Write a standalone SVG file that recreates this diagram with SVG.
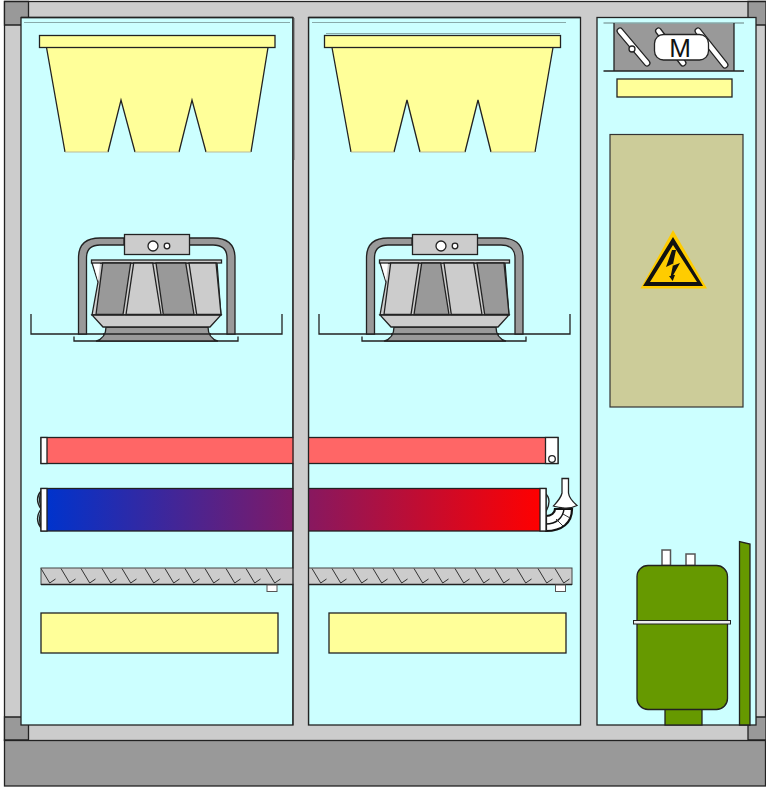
<svg xmlns="http://www.w3.org/2000/svg" width="766" height="787" viewBox="0 0 766 787">
<style>
.k{stroke:#222;stroke-width:1.3}
.l{fill:#ccc}.d{fill:#999}.p{fill:#cff}.y{fill:#ff9}.w{fill:#fff}.g{fill:#690}.b{fill:#cc9}
.t{fill:none;stroke:#333;stroke-width:1}
.s{fill:none;stroke:#222;stroke-width:1.300}
</style>
<defs>
<linearGradient id="coilGrad" x1="47" x2="540" y1="0" y2="0" gradientUnits="userSpaceOnUse">
<stop offset="0" stop-color="#03c"/><stop offset="1" stop-color="#f00"/>
</linearGradient>
<path id="tick" class="t" d="M0 0.500L8.700 15L14.500 11"/>
<g id="fanBase">
<path class="s" d="M31 314V334H282V314M74 336.500V341H238V336.500"/>
<path class="d k" d="M86.500 334V258Q86.500 245 100 245H124V238H100Q78.500 238 78.500 258V334ZM227 334V258Q227 245 213 245H189V238H213Q235 238 235 258V334Z"/>
<rect class="l k" x="124.500" y="234.500" width="65" height="20"/>
<circle class="w k" cx="153" cy="246" r="5"/><circle class="w k" cx="167" cy="246" r="2.800"/>
<path class="l k" d="M92 263H217L221 315H92L98 282Z"/>
<path class="w" d="M93 263H100L98 281Z"/>
<path class="d k" d="M106 327H208C208 334 211 339 218 341H96C103 339 106 334 106 327Z"/>
<path class="s" d="M103 334H211"/>
<path class="l k" d="M92 315H221L210 327H103Z"/>
<rect class="l k" x="91.500" y="260" width="130" height="3"/>
</g>
</defs>
<g id="cabinet">
<rect class="d k" x="4.500" y="740" width="761" height="46"/>
<rect class="l k" x="4.500" y="1.500" width="761" height="739"/>
<path class="d k" d="M4.500 1.500H28.500V25H4.500ZM748 1.500H766V25H748ZM4.500 717H28.500V740H4.500ZM748 717H766V740H748Z"/>
</g>
<g id="panel-left"><rect class="p k" x="21" y="17.500" width="272" height="707.500"/><path d="M24 22.500H290" stroke="#8aa" fill="none"/></g>
<g id="panel-middle"><rect class="p k" x="308.500" y="17.500" width="272" height="707.500"/><path d="M312 22.500H566" stroke="#8aa" fill="none"/></g>
<g id="panel-right"><rect class="p k" x="597" y="17.500" width="159" height="707.500"/></g>
<g id="filter-left">
<path class="y" d="M46.500 47.500L65 152H108L121 100L135 152H179L192 100L206 152H251L268 47.500Z"/>
<path class="s" d="M46.500 47.500L65 152M108 152L121 100L135 152M179 152L192 100L206 152M251 152L268 47.500"/>
<path d="M65 152H108M135 152H179M206 152H251" stroke="#bb9" fill="none"/>
<rect class="y k" x="39.500" y="35.500" width="235.500" height="12"/>
</g>
<g id="filter-right">
<path class="y" d="M332 47.500L351 152H394L407 100L420 152H465L478 100L491 152H535L553 47.500Z"/>
<path class="s" d="M332 47.500L351 152M394 152L407 100L420 152M465 152L478 100L491 152M535 152L553 47.500"/>
<path d="M351 152H394M420 152H465M491 152H535" stroke="#bb9" fill="none"/>
<path d="M326 33.500H560" stroke="#8aa" fill="none"/>
<rect class="y k" x="324.500" y="35.500" width="236" height="12"/>
</g>
<g id="fan-left">
<use href="#fanBase"/>
<path class="d k" d="M102.700 263H130.700L123 314.500H96Z"/>
<path class="l k" d="M133.700 263H152.700L161 314.500H126Z"/>
<path class="d k" d="M156 263H185.700L194 314.500H163.300Z"/>
<path class="l k" d="M189 263H216L221 314.500H196.700Z"/>
</g>
<g id="fan-right" transform="translate(288 0)">
<use href="#fanBase"/>
<path class="l k" d="M102.700 263H130.700L123 314.500H96Z"/>
<path class="d k" d="M133.700 263H152.700L161 314.500H126Z"/>
<path class="l k" d="M156 263H185.700L194 314.500H163.300Z"/>
<path class="d k" d="M189 263H216L221 314.500H196.700Z"/>
</g>
<g id="heater">
<rect x="41" y="437.500" width="517" height="26" fill="#f66" class="k"/>
<rect class="w k" x="41" y="437.500" width="6" height="26"/>
<rect class="w k" x="545.500" y="437.500" width="12.500" height="26"/>
<circle class="w k" cx="552" cy="459" r="3.300"/>
</g>
<g id="coil">
<path class="s" d="M41 491Q34 499 41 509Q34 519 41 528M41 493Q38 499 41 507M41 512Q38 519 41 526M545 493Q553 500 545 513"/>
<path d="M546 531C562 531 572 523 572 509L555 509C555 513 551 516 546 516Z" fill="#fff" stroke="#111" stroke-width="2.200"/>
<path d="M546 524C556 524 563 518 564 509" fill="none" stroke="#111" stroke-width="1.500"/>
<path d="M556 519L563 526M563 514L570 518" fill="none" stroke="#333"/>
<rect x="41" y="488.500" width="505" height="42.500" fill="url(#coilGrad)" class="k"/>
<rect class="w k" x="41" y="488.500" width="6" height="42.500"/>
<rect class="w k" x="540" y="488.500" width="6" height="42.500"/>
<path class="w k" d="M562 478.500H568.500V493C569 498 573 502 577 505.500C572 508 566 508.500 563 508C560 507.500 556 507 553.500 506C557 502 561 498 562 493Z"/>
</g>
<g id="tray">
<rect class="l" x="41" y="568" width="531" height="16.500" stroke="#444" stroke-width="1"/>
<path d="M41 584.500H572" class="s" stroke-width="1.800"/>
<use href="#tick" x="41" y="568"/><use href="#tick" x="61" y="568"/><use href="#tick" x="81" y="568"/><use href="#tick" x="102" y="568"/><use href="#tick" x="122" y="568"/><use href="#tick" x="145" y="568"/><use href="#tick" x="165" y="568"/><use href="#tick" x="185" y="568"/><use href="#tick" x="205" y="568"/><use href="#tick" x="226" y="568"/><use href="#tick" x="246" y="568"/><use href="#tick" x="266" y="568"/>
<use href="#tick" x="312" y="568"/><use href="#tick" x="332" y="568"/><use href="#tick" x="353" y="568"/><use href="#tick" x="373" y="568"/><use href="#tick" x="393" y="568"/><use href="#tick" x="414" y="568"/><use href="#tick" x="434" y="568"/><use href="#tick" x="455" y="568"/><use href="#tick" x="475" y="568"/><use href="#tick" x="495" y="568"/><use href="#tick" x="517" y="568"/><use href="#tick" x="538" y="568"/><use href="#tick" x="555" y="568"/>
<rect class="w" x="267" y="585" width="10" height="6.500" stroke="#555"/>
<rect class="w" x="555.500" y="585" width="10" height="6.500" stroke="#555"/>
</g>
<g id="wall-middle">
<rect class="l" x="293.500" y="18" width="14.500" height="707"/>
<rect class="d" x="293.500" y="18" width="1.500" height="142"/>
<path class="s" d="M293 17.500V725M308.500 17.500V725"/>
<path class="s" d="M21 17.500H293M308.500 17.500H580.500"/>
</g>
<g id="pan-left"><rect class="y k" x="41" y="613" width="237" height="40"/></g>
<g id="pan-right"><rect class="y k" x="329" y="613" width="237" height="40"/></g>
<g id="damper">
<rect class="d" x="614" y="23" width="120" height="48"/>
<path d="M603.500 23H744" stroke="#8aa" stroke-width="1.500" fill="none"/>
<path class="s" d="M603.500 71H744M614 23V71M734 23V71"/>
<path d="M620 31L647 63M658.500 31L683 63M698 31L725 65" stroke="#222" stroke-width="7" stroke-linecap="round"/>
<path d="M620 31L647 63M658.500 31L683 63M698 31L725 65" stroke="#fff" stroke-width="4.500" stroke-linecap="round"/>
<circle class="w k" cx="632" cy="49" r="3"/>
<rect class="w k" x="654.500" y="34.500" width="54" height="25.500" rx="9"/>
<text x="680" y="57" font-family="Liberation Sans, Arial, sans-serif" font-size="26" text-anchor="middle" fill="#111">M</text>
</g>
<g id="damper-label"><rect class="y k" x="617" y="79" width="115" height="18"/></g>
<g id="control-box">
<rect class="b" x="610" y="134.500" width="133" height="272.500" stroke="#333" stroke-width="1.200"/>
<path d="M673 230L707 288.500H640.500Z" fill="#fc0"/>
<path d="M673 237L703 286H643ZM673 245L650 282H697Z" fill="#111" fill-rule="evenodd"/>
<path d="M672 250L666 267L673.300 263.500L670.700 276L669 276L672.700 281L675 275L673.300 275L680 263L672.700 265.700L676 250Z" fill="#111"/>
</g>
<g id="compressor">
<rect class="w" x="662" y="550" width="8.500" height="15.500" stroke="#555" stroke-width="1.500"/>
<rect class="w" x="686" y="554" width="9" height="11.500" stroke="#555" stroke-width="1.500"/>
<rect class="g k" x="665" y="708" width="37" height="17"/>
<rect class="g k" x="637" y="565.500" width="90.500" height="144" rx="11"/>
<rect x="633.500" y="620.500" width="97" height="3.500" fill="#eee" stroke="#222" stroke-width="1"/>
</g>
<g id="plate"><path class="g k" d="M739.500 725V541.500L750 544V725Z"/></g>
</svg>
